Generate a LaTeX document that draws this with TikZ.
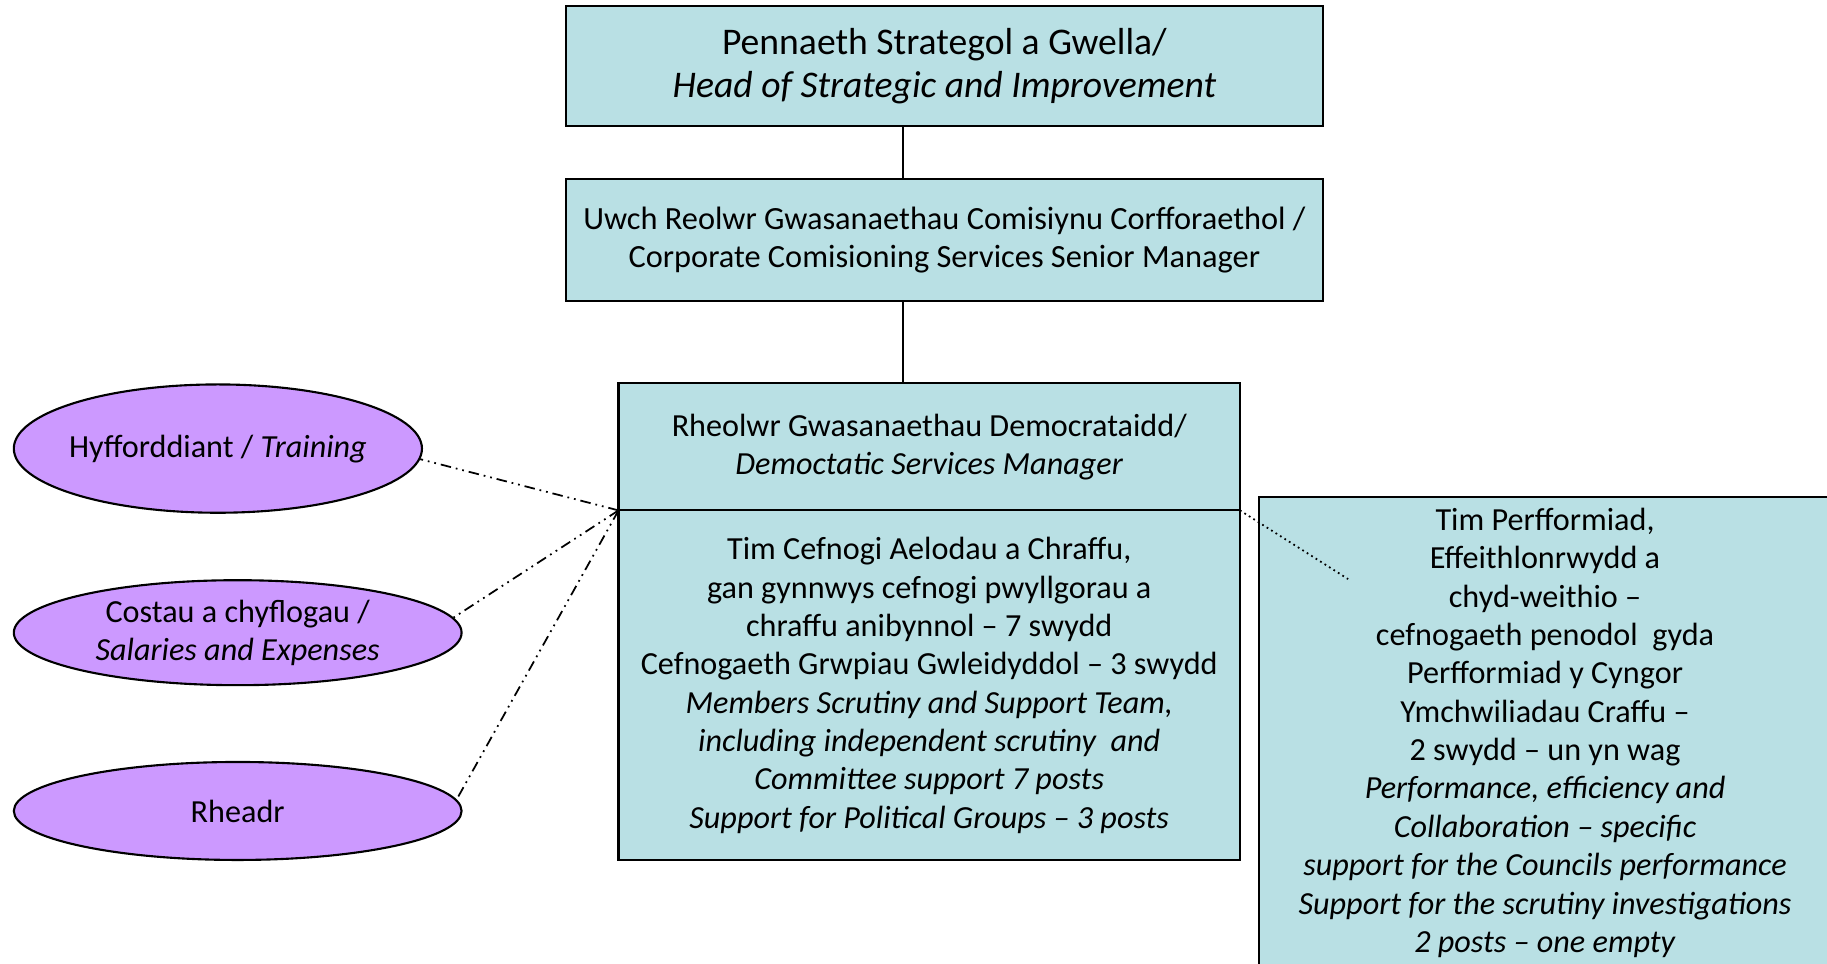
\documentclass[tikz,border=0pt]{standalone}
\usepackage{fontspec}
\setmainfont{Carlito}
\usetikzlibrary{positioning,shapes.geometric}
\definecolor{postblue}{RGB}{185,224,228}
\definecolor{dutylilac}{RGB}{204,153,255}
\tikzset{
  post/.style={draw, line width=0.6pt, fill=postblue, align=center, inner sep=0pt, outer sep=0pt},
  duty/.style={draw, line width=0.6pt, fill=dutylilac, ellipse, align=center, inner sep=0pt},
  dashdotdot/.style={line width=0.5pt, dash pattern=on 3pt off 1.4pt on 0.5pt off 1.4pt on 0.5pt off 1.4pt},
}
\begin{document}
\begin{tikzpicture}[x=0.01165cm,y=-0.01165cm,font=\fontsize{9.15}{10.9}\selectfont]
                \useasboundingbox (0,0) rectangle (1568,827);
                % posts
                \node[post, minimum width=7.561cm, minimum height=1.2cm, font=\fontsize{10.7}{12.3}\selectfont] (head) at (810.5,56.5)
                  {Pennaeth Strategol a Gwella/\\\textit{Head of Strategic and Improvement}};
                \node[post, minimum width=7.561cm, minimum height=1.212cm, font=\fontsize{9.2}{10.8}\selectfont] (senior) at (810.5,206)
                  {Uwch Reolwr Gwasanaethau Comisiynu Corfforaethol /\\Corporate Comisioning Services Senior Manager};
                \node[post, minimum width=6.209cm, minimum height=1.27cm] (mgr) at (797.5,383.5)
                  {Rheolwr Gwasanaethau Democrataidd/\\\textit{Democtatic Services Manager}};
                \node[post, minimum width=6.209cm, minimum height=3.495cm, below=0pt of mgr] (team)
                  {Tim Cefnogi Aelodau a Chraffu,\\gan gynnwys cefnogi pwyllgorau a\\chraffu anibynnol – 7 swydd\\
                   Cefnogaeth Grwpiau Gwleidyddol – 3 swydd\\\textit{Members Scrutiny and Support Team,}\\
                   \textit{including independent scrutiny~ and}\\\textit{Committee support 7 posts}\\
                   \textit{Support for Political Groups – 3 posts}};
                \node[post, minimum width=5.709cm, minimum height=4.707cm] (perf) at (1326,629)
                  {Tim Perfformiad,\\Effeithlonrwydd a\\chyd-weithio –\\cefnogaeth penodol~ gyda\\Perfformiad y Cyngor\\
                   Ymchwiliadau Craffu –\\2 swydd – un yn wag\\\textit{Performance, efficiency and}\\
                   \textit{Collaboration – specific}\\\textit{support for the Councils performance}\\
                   \textit{Support for the scrutiny investigations}\\\textit{2 posts – one empty}};
                % duties
                \node[duty, inner xsep=-2pt, minimum width=4.078cm, minimum height=1.282cm] (train) at (187,385) {Hyfforddiant / \textit{Training}};
                \node[duty, minimum width=4.474cm, minimum height=1.049cm] (cost) at (204,543) {Costau a chyflogau /\\\textit{Salaries and Expenses}};
                \node[duty, minimum width=4.474cm, minimum height=0.979cm] (rheadr) at (204,696) {Rheadr};
                % links
                \coordinate (spine) at (775,0);
                \draw[line width=0.6pt] (spine |- head.south) -- (spine |- senior.north);
                \draw[line width=0.6pt] (spine |- senior.south) -- (spine |- mgr.north);
                \foreach \d/\a in {train/-3, cost/4, rheadr/3}
                  \draw[dashdotdot] (mgr.south west) -- (\d.\a);
                \coordinate (perfend) at (1157,497);
                \draw[line width=0.5pt, densely dotted] (team.north east) -- (perfend);
\end{tikzpicture}
\end{document}
